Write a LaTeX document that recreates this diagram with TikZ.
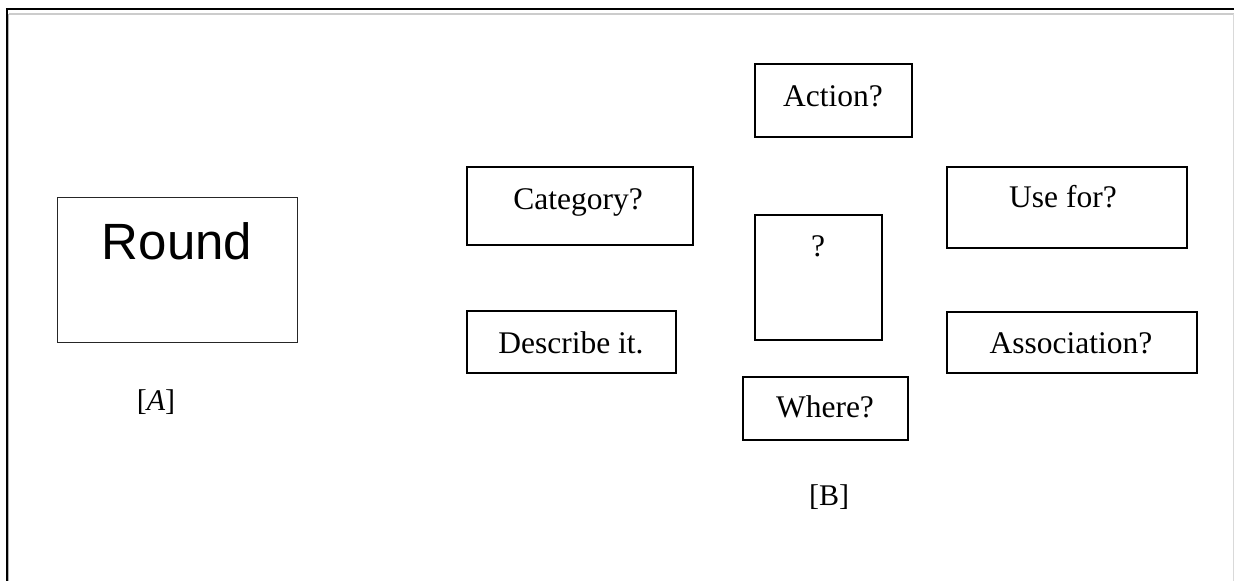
\documentclass[tikz,border=0pt]{standalone}
\usepackage{fontspec}
\setmainfont{Liberation Serif}
\newfontfamily\arialfont{Liberation Sans}
\begin{document}
\begin{tikzpicture}[x=1pt,y=-1pt,
  qbox/.style={draw=black,line width=1.4pt,inner sep=0pt},
  qtext/.style={anchor=base,inner sep=0pt,font=\fontsize{31.5}{36}\selectfont},
  lbl/.style={anchor=base,inner sep=0pt,font=\fontsize{30}{34}\selectfont}]
\useasboundingbox (0,0) rectangle (1234,581);
% frame
\draw[line width=1.5pt,black!20] (9,14) -- (1234,14);
\draw[line width=1pt,black!15] (1233,14) -- (1233,581);
\draw[line width=2.2pt,black] (5.9,9) -- (1234,9);
\draw[line width=2.2pt,black] (7,8) -- (7,581);
\draw[line width=1pt,black!30] (8.6,14) -- (8.6,581);
% boxes
\node[draw=black!85,line width=1pt,inner sep=0pt,minimum width=240pt,minimum height=145pt] (round) at (177,269.5) {};
\node[inner sep=0pt,anchor=base,font=\arialfont\fontsize{51}{56}\selectfont] (roundt) at (round.center |- 0,259) {Round};
\node[lbl] (la) at (156,410) {[\textit{A}]};

\node[qbox,minimum width=226pt,minimum height=78pt] (cat) at (580,206) {};
\node[qtext] (catt) at (578,209) {Category?};
\node[qbox,minimum width=209pt,minimum height=62pt] (desc) at (571.5,342) {};
\node[qtext] (desct) at (571,353) {Describe it.};
\node[qbox,minimum width=157pt,minimum height=73pt] (act) at (833.5,100.5) {};
\node[qtext] (actt) at (833,106) {Action?};
\node[qbox,minimum width=127pt,minimum height=125pt] (q) at (818.5,277.5) {};
\node[qtext] (qt) at (818,256) {?};
\node[qbox,minimum width=165pt,minimum height=63pt] (where) at (825.5,408.5) {};
\node[qtext] (wheret) at (825,417) {Where?};
\node[lbl] (lb) at (829,505) {[B]};
\node[qbox,minimum width=240pt,minimum height=81pt] (use) at (1067,207.5) {};
\node[qtext] (uset) at (1063,207) {Use for?};
\node[qbox,minimum width=250pt,minimum height=61pt] (assoc) at (1072,342.5) {};
\node[qtext] (assoct) at (1071,353) {Association?};
\end{tikzpicture}
\end{document}
